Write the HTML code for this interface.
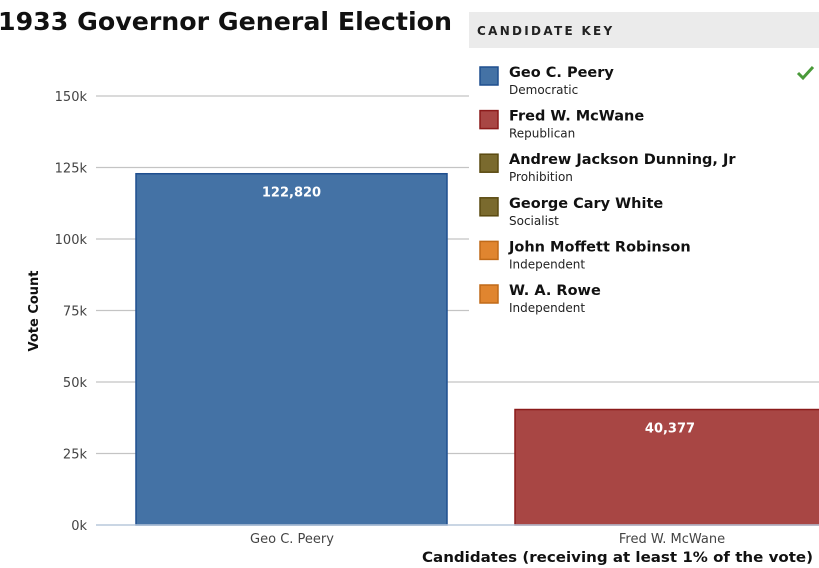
<!DOCTYPE html>
<html><head><meta charset="utf-8">
<style>
body{margin:0;background:#fff;width:819px;height:568px;overflow:hidden;font-family:"DejaVu Sans","Liberation Sans",sans-serif;}
svg{display:block}
</style></head>
<body>
<svg id="chart" width="819" height="568">
  <text x="-2" y="30" font-size="25" font-weight="bold" fill="#111" textLength="454" lengthAdjust="spacingAndGlyphs">1933 Governor General Election</text>
  <g id="grid"></g>
  <g id="bars"></g>
  <line x1="96" y1="525" x2="819" y2="525" stroke="#b8c8dc" stroke-width="1.5"/>
  <text x="0" y="0" transform="translate(38,311) rotate(-90)" text-anchor="middle" font-size="13" font-weight="bold" fill="#111">Vote Count</text>
  <text x="422" y="562" font-size="14" font-weight="bold" fill="#111" textLength="391" lengthAdjust="spacingAndGlyphs">Candidates (receiving at least 1% of the vote)</text>
  <g id="legend">
    <rect x="469" y="56" width="350" height="268" fill="#fff"/>
    <rect x="469" y="12" width="350" height="36" fill="#ebebeb"/>
    <text x="477" y="35" font-size="12" font-weight="bold" letter-spacing="2.3" fill="#222">CANDIDATE KEY</text>
    <path d="M798 73 l5 5 l10 -11" stroke="#4a9a3a" stroke-width="3" fill="none"/>
  </g>
</svg>
<script>
const categories=["Geo C. Peery","Fred W. McWane"];
const votes=[122820,40377];
const barColors=["#4472a5","#a84644"];
const barStroke=["#1f4f8f","#8b1a1a"];
const yTicks=[0,25000,50000,75000,100000,125000,150000];
const yTickLabels=["0k","25k","50k","75k","100k","125k","150k"];
const legendNames=["Geo C. Peery","Fred W. McWane","Andrew Jackson Dunning, Jr","George Cary White","John Moffett Robinson","W. A. Rowe"];
const legendParties=["Democratic","Republican","Prohibition","Socialist","Independent","Independent"];
const legendColors=["#4472a5","#a84644","#7a6a2e","#7a6a2e","#e0852f","#e0852f"];
const legendStroke=["#1f4f8f","#8b1a1a","#5a4a10","#5a4a10","#c06a18","#c06a18"];

const NS="http://www.w3.org/2000/svg";
const y=v=>525-v/25000*71.5;
const bandStart=[136,515], bandW=[311,310];
const x=i=>bandStart[i];
function mk(t,a,p){const e=document.createElementNS(NS,t);for(const k in a)e.setAttribute(k,a[k]);p.appendChild(e);return e;}
const grid=document.getElementById('grid');
yTicks.forEach((t,i)=>{
  if(t>0){const l=mk('line',{x1:96,x2:819,y1:y(t),y2:y(t),stroke:'#c4c4c4','stroke-width':1.2},grid);
  
  }
  const tx=mk('text',{x:87,y:y(t)+5,'text-anchor':'end','font-size':13,fill:'#444'},grid);
  tx.textContent=yTickLabels[i];
  
  
});
const bars=document.getElementById('bars');
votes.forEach((v,i)=>{
  const r=mk('rect',{x:x(i),y:y(v),width:bandW[i],height:525-y(v),fill:barColors[i],stroke:barStroke[i],'stroke-width':1.5},bars);
  
  
  const lb=mk('text',{x:x(i)+bandW[i]/2,y:y(v)+23,'text-anchor':'middle','font-size':13,'font-weight':'bold',fill:'#fff'},bars);
  lb.textContent=v.toLocaleString('en-US');
  
  
  const cl=mk('text',{x:[292,672][i],y:543,'text-anchor':'middle','font-size':13,fill:'#444'},bars);
  cl.textContent=categories[i];
  
  
});
const lg=document.getElementById('legend');
legendNames.forEach((n,i)=>{
  const yy=67+i*43.6;
  const s=mk('rect',{x:480,y:yy,width:18,height:18,fill:legendColors[i],stroke:legendStroke[i],'stroke-width':1.5},lg);
  
  
  const t=mk('text',{x:509,y:yy+10,'font-size':14.5,'font-weight':'bold',fill:'#111'},lg);
  t.textContent=n;
  
  
  const p=mk('text',{x:509,y:yy+27,'font-size':12,fill:'#222'},lg);
  p.textContent=legendParties[i];
  
  
});
</script>
</body></html>
